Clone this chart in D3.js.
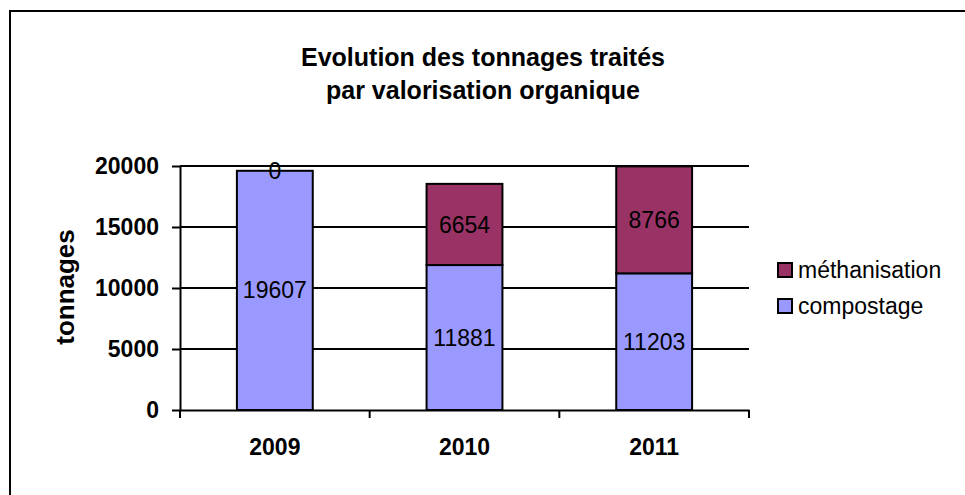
<!DOCTYPE html>
<html>
<head>
  <meta charset="utf-8">
  <script src="https://d3js.org/d3.v7.min.js"></script>
  <style>
    body { margin: 0; background: white; font-family: "Liberation Sans", Arial, sans-serif; }
    svg text { font-family: "Liberation Sans", Arial, sans-serif; }
  </style>
</head>
<body>
  <div id="chart"></div>
  <script>
    // chart data
    const years = ['2009', '2010', '2011'];
    const compostage = [19607, 11881, 11203];
    const methanisation = [0, 6654, 8766];
    const seriesNames = ['compostage', 'méthanisation'];
    const seriesColors = ['#9999ff', '#993366'];
    const yTicks = [0, 5000, 10000, 15000, 20000];

    const width = 965, height = 495;
    const plot = { left: 180, right: 749, top: 166, bottom: 410 };

    const svg = d3.select('#chart').append('svg')
      .attr('width', width)
      .attr('height', height);

    svg.append('rect')
      .attr('width', width).attr('height', height).attr('fill', 'white');

    // outer frame (runs off the bottom/right of the picture)
    svg.append('rect')
      .attr('x', 10).attr('y', 11)
      .attr('width', 980).attr('height', 520)
      .attr('fill', 'none').attr('stroke', '#000').attr('stroke-width', 2);

    // title
    const title = svg.append('text')
      .attr('text-anchor', 'middle')
      .attr('font-size', 25).attr('font-weight', 'bold');
    title.append('tspan').attr('x', 483).attr('y', 66).text('Evolution des tonnages traités');
    title.append('tspan').attr('x', 483).attr('y', 99).text('par valorisation organique');

    const x = d3.scaleBand()
      .domain(years)
      .range([plot.left, plot.right])
      .paddingInner(0.6)
      .paddingOuter(0.3);

    const y = d3.scaleLinear()
      .domain([0, 20000])
      .range([plot.bottom, plot.top]);

    // gridlines
    svg.append('g')
      .selectAll('line')
      .data(yTicks.filter(d => d > 0))
      .join('line')
      .attr('x1', plot.left).attr('x2', plot.right)
      .attr('y1', d => y(d)).attr('y2', d => y(d))
      .attr('stroke', '#000').attr('stroke-width', 2);

    // stacked data
    const rows = years.map((yr, i) => ({ year: yr, compostage: compostage[i], 'méthanisation': methanisation[i] }));
    const stack = d3.stack().keys(seriesNames)(rows);

    const layers = svg.append('g')
      .selectAll('g')
      .data(stack)
      .join('g')
      .attr('fill', (d, i) => seriesColors[i]);

    layers.selectAll('rect')
      .data(d => d)
      .join('rect')
      .attr('x', d => x(d.data.year))
      .attr('width', x.bandwidth())
      .attr('y', d => y(d[1]))
      .attr('height', d => y(d[0]) - y(d[1]))
      .attr('stroke', '#000').attr('stroke-width', 2);

    // value labels
    stack.forEach(layer => {
      svg.append('g')
        .selectAll('text')
        .data(layer)
        .join('text')
        .attr('x', d => x(d.data.year) + x.bandwidth() / 2)
        .attr('y', d => (y(d[0]) + y(d[1])) / 2)
        .attr('dy', '0.35em')
        .attr('text-anchor', 'middle')
        .attr('font-size', 23)
        .attr('fill', '#000')
        .text(d => d.data[layer.key]);
    });

    // y axis
    const yAxis = svg.append('g')
      .attr('transform', `translate(${plot.left},0)`)
      .call(d3.axisLeft(y).tickValues(yTicks).tickSize(8).tickSizeOuter(0).tickPadding(13).tickFormat(d3.format('d')));
    yAxis.selectAll('text').attr('font-size', 23).attr('font-weight', 'bold').attr('fill', '#000');

    // x axis
    const xAxis = svg.append('g')
      .attr('transform', `translate(0,${plot.bottom})`)
      .call(d3.axisBottom(x).tickSize(0).tickPadding(29));
    xAxis.selectAll('text').attr('font-size', 23).attr('font-weight', 'bold').attr('fill', '#000');
    xAxis.append('g')
      .selectAll('line')
      .data(d3.range(years.length + 1))
      .join('line')
      .attr('x1', i => plot.left + i * x.step()).attr('x2', i => plot.left + i * x.step())
      .attr('y1', 0).attr('y2', 8)
      .attr('stroke', '#000').attr('stroke-width', 2);

    svg.selectAll('.domain').attr('stroke', '#000').attr('stroke-width', 2);
    svg.selectAll('.tick line').attr('stroke', '#000').attr('stroke-width', 2);

    // axis title
    svg.append('text')
      .attr('transform', 'translate(74,287) rotate(-90)')
      .attr('text-anchor', 'middle')
      .attr('font-size', 26).attr('font-weight', 'bold')
      .text('tonnages');

    // legend (méthanisation on top)
    const legend = svg.append('g');
    const legendItems = [1, 0];
    legendItems.forEach((s, i) => {
      const ly = 263 + i * 36;
      legend.append('rect')
        .attr('x', 778).attr('y', ly)
        .attr('width', 14).attr('height', 14)
        .attr('fill', seriesColors[s])
        .attr('stroke', '#000').attr('stroke-width', 2);
      legend.append('text')
        .attr('x', 798).attr('y', ly + 7)
        .attr('dy', '0.35em')
        .attr('font-size', 23)
        .text(seriesNames[s]);
    });
  </script>
</body>
</html>
